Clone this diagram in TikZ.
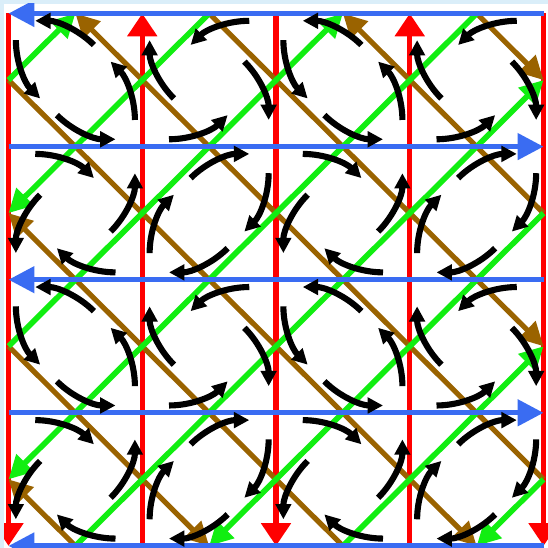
\documentclass[tikz,border=0pt]{standalone}
\usetikzlibrary{arrows.meta}
\definecolor{paneBlue}{HTML}{DAEEF9}
\definecolor{linkRed}{HTML}{FF0000}
\definecolor{linkBlue}{HTML}{3A6CF2}
\definecolor{diagGreen}{HTML}{11EE11}
\definecolor{diagBrown}{HTML}{9A6300}
% turning arrows: distance along the link, offset from it, radius
\def\arcT{0.3}
\def\arcD{0.055}
\def\arcR{0.62}
% #1,#2 link midpoint, #3 link direction, #4 turn sign, #5 0 = link->diagonal, 1 = diagonal->link
\newcommand{\turnarc}[5]{%
  \pgfmathsetmacro{\arcN}{#3+90*(#4)}
  \ifnum#5=0\relax
    \pgfmathsetmacro{\arcX}{#1-\arcT*cos(#3)+\arcD*cos(\arcN)}
    \pgfmathsetmacro{\arcY}{#2-\arcT*sin(#3)+\arcD*sin(\arcN)}
    \pgfmathsetmacro{\arcS}{#3-90*(#4)}
    \pgfmathsetmacro{\arcW}{45*(#4)}
  \else
    \pgfmathsetmacro{\arcS}{#3+135*(#4)}
    \pgfmathsetmacro{\arcX}{#1+\arcT*cos(#3)-(\arcD+\arcR)*cos(\arcN)+\arcR*cos(\arcS)}
    \pgfmathsetmacro{\arcY}{#2+\arcT*sin(#3)-(\arcD+\arcR)*sin(\arcN)+\arcR*sin(\arcS)}
    \pgfmathsetmacro{\arcW}{-45*(#4)}
  \fi
  \draw[turn] (\arcX,\arcY) arc[start angle=\arcS, delta angle=\arcW, radius=\arcR];
}

\begin{document}
\begin{tikzpicture}[x=2cm, y=1.9903cm,
    redlink/.style={linkRed, line width=2.3pt, -{Triangle[length=9.7pt, width=12.3pt]}},
    bluelink/.style={linkBlue, line width=2.1pt, -{Triangle[length=11pt, width=11pt]}},
    greenlink/.style={diagGreen, line width=2.4pt, -{Triangle[length=10pt, width=10pt]}},
    brownlink/.style={diagBrown, line width=2.2pt, -{Triangle[length=10pt, width=10pt]}},
    turn/.style={black, line width=2.6pt, -{Triangle[length=6.5pt, width=6.5pt]}}]
  % frame
  \fill[paneBlue] (-0.0636,0.1014) rectangle (4.0336,-4.0158);
  \fill[white] (-0.0336,0.0714) rectangle (4.0336,-4.0158);
  \clip (-0.0336,0.0714) rectangle (4.0336,-4.0158);
  % vertical links
  \foreach \i in {0,2,4} \draw[redlink] (\i,0) -- (\i,-4);
  \foreach \i in {1,3} \draw[redlink] (\i,-4) -- (\i,0);
  % diagonals down to the right
  \foreach \a/\b in {{4,-1.5}/{2.5,0}, {4,-3.5}/{0.5,0}, {2.5,-4}/{0,-1.5}, {0.5,-4}/{0,-3.5},
                     {3.5,0}/{4,-0.5}, {1.5,0}/{4,-2.5}, {0,-0.5}/{3.5,-4}, {0,-2.5}/{1.5,-4}}
    \draw[brownlink] (\a) -- (\b);
  % diagonals up to the right
  \foreach \a/\b in {{0,-0.5}/{0.5,0}, {0,-2.5}/{2.5,0}, {0.5,-4}/{4,-0.5}, {2.5,-4}/{4,-2.5},
                     {1.5,0}/{0,-1.5}, {3.5,0}/{0,-3.5}, {4,-1.5}/{1.5,-4}, {4,-3.5}/{3.5,-4}}
    \draw[greenlink] (\a) -- (\b);
  % horizontal links
  \foreach \j in {0,2,4} \draw[bluelink] (4,-\j) -- (0,-\j);
  \foreach \j in {1,3} \draw[bluelink] (0,-\j) -- (4,-\j);
  % turning arrows beside the vertical links
  \foreach \i in {0,...,4}{
    \foreach \j in {0,...,3}{
      \pgfmathtruncatemacro{\dirA}{mod(\i,2)==0 ? 270 : 90}
      \pgfmathtruncatemacro{\sgnA}{mod(\j,2)==0 ? 1 : -1}
      \pgfmathtruncatemacro{\sideW}{mod(\i+\j,2)==0 ? 1 : 0}
      \pgfmathtruncatemacro{\sideE}{1-\sideW}
      \ifnum\i<4 \turnarc{\i}{-\j-0.5}{\dirA}{\sgnA}{\sideE}\fi
      \ifnum\i>0 \turnarc{\i}{-\j-0.5}{\dirA}{\sgnA}{\sideW}\fi
    }
  }
  % turning arrows beside the horizontal links
  \foreach \i in {0,...,3}{
    \foreach \j in {0,...,4}{
      \pgfmathtruncatemacro{\dirA}{mod(\j,2)==0 ? 180 : 0}
      \pgfmathtruncatemacro{\sgnA}{mod(\i,2)==0 ? -1 : 1}
      \pgfmathtruncatemacro{\sideS}{mod(\i+\j,2)==0 ? 1 : 0}
      \pgfmathtruncatemacro{\sideN}{1-\sideS}
      \ifnum\j>0 \turnarc{\i+0.5}{-\j}{\dirA}{\sgnA}{\sideN}\fi
      \ifnum\j<4 \turnarc{\i+0.5}{-\j}{\dirA}{\sgnA}{\sideS}\fi
    }
  }
\end{tikzpicture}
\end{document}
